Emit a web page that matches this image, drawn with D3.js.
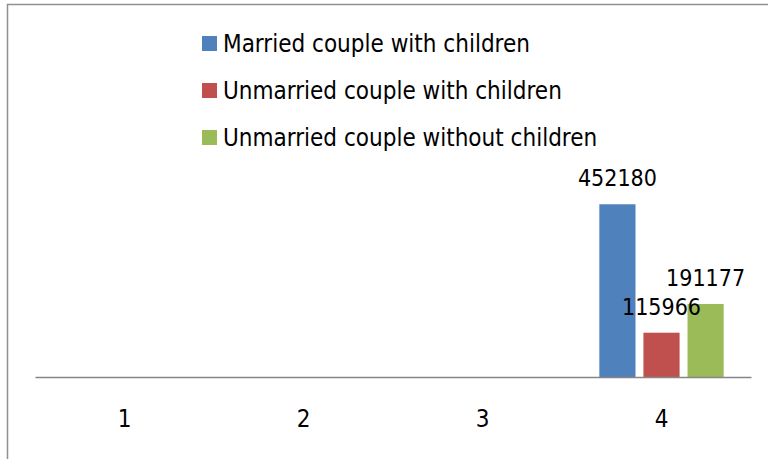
<!DOCTYPE html>
<html>
<head>
<meta charset="utf-8">
<script src="https://cdn.jsdelivr.net/npm/d3@7"></script>
<style>
  body { margin: 0; background: #fff; }
  text { font-family: "Liberation Sans Narrow", "DejaVu Sans Condensed", "Liberation Sans", sans-serif; fill: #000; }
</style>
</head>
<body>
<div id="chart"></div>
<script>
var categories = ["1", "2", "3", "4"];
var seriesNames = ["Married couple with children", "Unmarried couple with children", "Unmarried couple without children"];
var seriesColors = ["#4F81BD", "#C0504D", "#9BBB59"];
// only category 4 has values, the others are empty
var married = [null, null, null, 452180];
var unmarriedKids = [null, null, null, 115966];
var unmarriedNoKids = [null, null, null, 191177];

var width = 768, height = 459;
var values = [married, unmarriedKids, unmarriedNoKids];

var svg = d3.select("#chart").append("svg")
  .attr("width", width)
  .attr("height", height);

// outer frame of the chart
svg.append("rect")
  .attr("x", 7.5).attr("y", 4.5)
  .attr("width", 820).attr("height", 520)
  .attr("fill", "none")
  .attr("stroke", "#909090")
  .attr("stroke-width", 1.5);

var x0 = d3.scaleBand()
  .domain(categories)
  .range([35, 751]);

var x1 = d3.scaleBand()
  .domain(d3.range(seriesNames.length))
  .range([0, x0.bandwidth()])
  .paddingInner(0.18)
  .paddingOuter(0.62);

var y = d3.scaleLinear()
  .domain([0, 500000])
  .range([377, 186]);

var bars = [];
categories.forEach(function(c, i) {
  values.forEach(function(s, j) {
    if (s[i] != null) bars.push({ cat: c, s: j, v: s[i] });
  });
});

svg.selectAll("rect.bar")
  .data(bars)
  .enter().append("rect")
  .attr("class", "bar")
  .attr("x", function(d) { return x0(d.cat) + x1(d.s); })
  .attr("width", x1.bandwidth())
  .attr("y", function(d) { return y(d.v); })
  .attr("height", function(d) { return y(0) - y(d.v); })
  .attr("fill", function(d) { return seriesColors[d.s]; });

svg.selectAll("text.lbl")
  .data(bars)
  .enter().append("text")
  .attr("class", "lbl")
  .attr("x", function(d) { return x0(d.cat) + x1(d.s) + x1.bandwidth() / 2; })
  .attr("y", function(d) { return y(d.v) - 18; })
  .attr("text-anchor", "middle")
  .attr("font-size", 23)
  .text(function(d) { return d.v; });

// category axis
var axis = svg.append("g")
  .attr("transform", "translate(0," + y(0) + ")")
  .call(d3.axisBottom(x0).tickSize(0).tickPadding(0));
axis.select(".domain").attr("stroke", "#868686").attr("stroke-width", 1.5);
axis.selectAll(".tick text")
  .attr("dy", 0)
  .attr("y", 50)
  .attr("font-size", 24)
  .attr("fill", "#000");

// legend
var legend = svg.append("g");
var leg = legend.selectAll("g")
  .data(seriesNames)
  .enter().append("g")
  .attr("transform", function(d, i) { return "translate(202," + (36 + i * 47) + ")"; });
leg.append("rect")
  .attr("width", 15).attr("height", 15)
  .attr("fill", function(d, i) { return seriesColors[i]; });
leg.append("text")
  .attr("x", 21).attr("y", 15.5)
  .attr("font-size", 24)
  .text(function(d) { return d; });
</script>
</body>
</html>
